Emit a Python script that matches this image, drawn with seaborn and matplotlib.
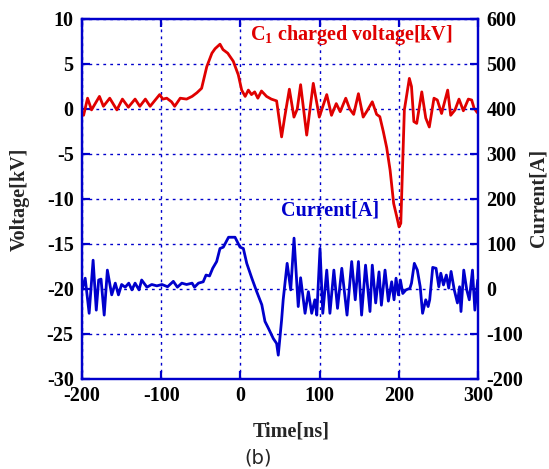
import matplotlib
matplotlib.use("Agg")
import matplotlib.pyplot as plt
import seaborn as sns
import pandas as pd

# Charged voltage on C1 (kV) versus time (ns)
v_time = [-198, -193, -188, -178, -173, -165, -156, -149, -141.5, -133, -127, -120, -114,
          -102, -98, -93, -87, -83, -76, -68, -61, -55, -49, -42.5, -36, -32, -25.8, -22,
          -16, -9, -2.7, 1.6, 6, 10, 14, 18, 22, 26.6, 33, 39, 45.7, 52, 56, 61.8, 67.6,
          71.8, 76, 83.7, 92, 99.6, 109, 115, 121, 126, 133, 138, 143, 149, 155, 160,
          166.5, 172, 176, 180.4, 184.7, 189, 193.5, 197.5, 200.3, 202.5, 205, 207,
          213.3, 216, 219, 222.6, 229, 234, 238.5, 244.4, 248.6, 254, 261.7, 265.5, 271,
          276, 281.5, 287.8, 292, 295, 299]
voltage = [-0.7, 1.2, -0.1, 1.4, 0.3, 1.2, -0.1, 1.1, 0.2, 1.1, 0.3, 1.1, 0.3,
           1.6, 1.1, 1.2, 0.8, 0.3, 1.2, 1.1, 1.4, 1.8, 2.3, 4.7, 6.2, 6.7, 7.2, 6.6,
           6.2, 5.3, 3.8, 2.1, 1.4, 2.1, 1.6, 1.9, 1.2, 2.0, 1.4, 1.1, 0.9, -3.1, -0.85,
           2.2, -0.9, 0.0, 2.7, -2.9, 2.85, -0.9, 1.6, -0.7, 0.6, -0.3, 1.2, 0.0, -0.6,
           1.7, -0.9, -0.2, 0.8, -0.6, -0.85, -2.5, -4.3, -6.8, -10.5, -12.0, -13.1,
           -12.7, -5.7, -0.1, 3.4, 2.5, -1.4, -1.6, 1.9, -1.0, -2.0, 1.2, 1.0, -0.5,
           2.1, -0.7, -0.1, 1.1, -0.2, 1.1, 1.0, 0.1, -0.4]

# Current (A) versus time (ns)
i_time = [-200, -196, -191, -186, -182, -179, -176, -172, -168, -162.5, -158, -154, -150,
          -145.5, -141, -137, -133, -128, -124.7, -118, -112, -105.5, -99, -92, -84.7,
          -79.6, -74, -68, -61, -58, -53, -47, -43.4, -39, -35, -30, -25.8, -21.6, -15,
          -6.8, -0.5, 3.7, 8, 14.4, 20.6, 27, 31, 35, 41.5, 45.7, 47.8, 52, 54, 59, 63.5,
          67.7, 73, 76, 81.6, 85.8, 90, 94, 96.4, 100.5, 104, 109, 113, 118, 122.6, 128,
          134.6, 140.5, 145, 149, 153, 158, 163.6, 166.5, 170.8, 175, 178, 182.6, 186.8,
          191, 194, 196.5, 199.4, 202, 205, 209, 214, 216, 219.6, 223.4, 227, 230, 234,
          237, 239, 242.8, 247, 250.5, 253, 256.4, 260, 263, 266, 270, 274, 276.7, 278.5,
          282, 285.8, 289, 293, 296, 299.6]
current = [-2, 24, -54, 64, -47, 20, 22, -58, 42, -13, 13, -13, 10,
           4, 13, -2, 13, -2, 20, 4, 10, 7, 10, 5, 17,
           4, 13, 10, 13, 4, 13, 16, 31, 29, 46, 61, 90, 93, 115,
           115, 93, 90, 57, 24, -6, -35, -72, -86, -110, -121, -147, -69, -24, 57, -2,
           113, -39, 25, -54, -6, -54, -24, -58, 90, -54, 42, -54, 42, -43, 46,
           -58, 61, -24, 61, -58, 53, -50, 53, -31, 38, -36, 42, -27,
           16, -24, 24, -13, 20, -10, -2, 1.5, 13, 57, 42, 5, -54, -24,
           -39, -24, 48, 46, 5, 35, 9, 31, 2, 39, -2, -31, 5, -50,
           42, -2, -24, 42, -47, 20]

x_ticks = [-200, -100, 0, 100, 200, 300]
v_ticks = [-30, -25, -20, -15, -10, -5, 0, 5, 10]
i_ticks = [-200, -100, 0, 100, 200, 300, 400, 500, 600]

RED = "#e00000"
BLUE = "#0000cc"
FS = 14.5

sns.set_theme(style="white")
plt.rcParams["font.family"] = ["Liberation Serif", "DejaVu Serif"]
plt.rcParams["font.weight"] = "bold"
plt.rcParams["mathtext.default"] = "regular"
plt.rcParams["axes.unicode_minus"] = False

volt_df = pd.DataFrame({"t": v_time, "v": voltage})
curr_df = pd.DataFrame({"t": i_time, "i": current})

fig = plt.figure(figsize=(5.49, 4.69), dpi=100)
ax = fig.add_axes([0.1494, 0.1919, 0.7213, 0.7676])
ax2 = ax.twinx()

sns.lineplot(data=volt_df, x="t", y="v", ax=ax, color=RED, lw=2.0, zorder=3)
sns.lineplot(data=curr_df, x="t", y="i", ax=ax2, color=BLUE, lw=2.0, zorder=3)

ax.set_xlim(-200, 300)
ax.set_ylim(-30, 10)
ax2.set_ylim(-200, 600)
ax.set_xticks(x_ticks)
ax.set_yticks(v_ticks)
ax2.set_yticks(i_ticks)

ax.grid(True, color=BLUE, linestyle=(0, (2, 3)), linewidth=1.0)
ax.set_axisbelow(True)

for a in (ax, ax2):
    for s in a.spines.values():
        s.set_color(BLUE)
        s.set_linewidth(1.6)
        s.set_visible(True)

ax.tick_params(axis="x", direction="in", length=6, width=1.6, color=BLUE,
               top=True, bottom=True, labelsize=FS, pad=5)
ax.tick_params(axis="y", direction="in", length=6, width=1.6, color=BLUE,
               left=True, right=False, labelsize=FS, pad=6)
ax2.tick_params(axis="y", direction="in", length=6, width=1.6, color=BLUE,
                right=True, left=False, labelsize=FS, pad=6)
for lab in ax.get_xticklabels() + ax.get_yticklabels() + ax2.get_yticklabels():
    lab.set_fontweight("bold")
    lab.set_color("black")

ax.set_xlabel("")
ax.set_ylabel("")
ax2.set_ylabel("")

fig.text(0.530, 0.079, "Time[ns]", ha="center", va="center", fontsize=FS,
         fontweight="bold")
fig.text(0.036, 0.576, "Voltage[kV]", ha="center", va="center", rotation=90,
         fontsize=FS, fontweight="bold")
fig.text(0.980, 0.578, "Current[A]", ha="center", va="center", rotation=90,
         fontsize=FS, fontweight="bold")

ax.text(0.424, 0.955, "C$_{1}$ charged voltage[kV]", transform=ax.transAxes,
        color=RED, fontsize=FS, fontweight="bold", ha="left", va="center")
ax2.text(0.626, 0.469, "Current[A]", transform=ax.transAxes, color=BLUE,
         fontsize=FS, fontweight="bold", ha="center", va="center")

fig.text(0.470, 0.0235, "(b)", ha="center", va="center", fontsize=14,
         family="DejaVu Sans", fontweight="normal")

fig.savefig("out.png", dpi=100, facecolor="white")
